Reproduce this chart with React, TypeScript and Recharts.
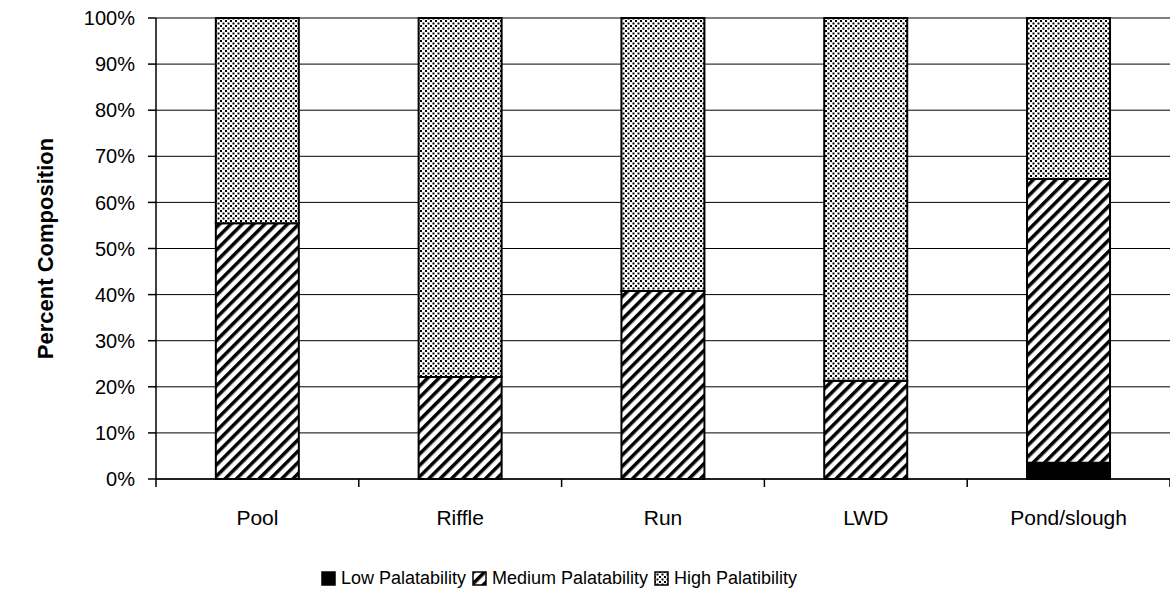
import { BarChart, Bar, XAxis, YAxis, CartesianGrid, Legend } from 'recharts'

const categories = ['Pool', 'Riffle', 'Run', 'LWD', 'Pond/slough']
const lowValues = [0, 0, 0, 0, 3.5]
const mediumValues = [55.5, 22.1, 40.8, 21.3, 61.6]
const highValues = [44.5, 77.9, 59.2, 78.7, 34.9]
const yTicks = [0, 10, 20, 30, 40, 50, 60, 70, 80, 90, 100]

const seriesNames = ['Low Palatability', 'Medium Palatability', 'High Palatibility']

const data = categories.map((name, i) => ({
  name,
  low: lowValues[i],
  medium: mediumValues[i],
  high: highValues[i]
}))

const FONT = 'Arial, "Liberation Sans", sans-serif'
const X_TICK_MARGIN = 31

// category labels plus the boundary tick marks between categories
const CategoryTick = (props: any) => {
  const { x, y, payload, index, width } = props
  const half = width / categories.length / 2
  const axisY = y - X_TICK_MARGIN
  return (
    <g>
      <line x1={x - half} x2={x - half} y1={axisY} y2={axisY + 8} stroke="#000" strokeWidth={1.5} />
      {index === categories.length - 1 && (
        <line x1={x + half} x2={x + half} y1={axisY} y2={axisY + 8} stroke="#000" strokeWidth={1.5} />
      )}
      <text x={x} y={y} dy="0.71em" textAnchor="middle" fontSize={21} fill="#000" fontFamily={FONT}>
        {payload.value}
      </text>
    </g>
  )
}

const YLabel = (props: any) => {
  const { viewBox } = props
  const cy = viewBox.y + viewBox.height / 2
  return (
    <text
      x={45}
      y={cy}
      transform={`rotate(-90, 45, ${cy})`}
      textAnchor="middle"
      dominantBaseline="central"
      fontSize={22}
      fontWeight="bold"
      fontFamily={FONT}
      fill="#000"
    >
      Percent Composition
    </text>
  )
}

const LegendIcon = ({ fill }: { fill: string }) => (
  <svg width={15} height={15} style={{ marginRight: 5 }}>
    <rect x={1} y={1} width={13} height={13} fill={fill} stroke="#000" strokeWidth={1.5} />
  </svg>
)

const CustomLegend = () => {
  const fills = ['#000', 'url(#hatch)', 'url(#dots)']
  return (
    <div
      style={{
        display: 'flex',
        justifyContent: 'center',
        alignItems: 'center',
        height: 32,
        fontFamily: FONT,
        fontSize: 18,
        color: '#000'
      }}
    >
      {seriesNames.map((n, i) => (
        <span key={n} style={{ display: 'flex', alignItems: 'center', marginRight: 6 }}>
          <LegendIcon fill={fills[i]} />
          {n}
        </span>
      ))}
    </div>
  )
}

export default function App() {
  return (
    <div style={{ position: 'absolute', left: 0, top: 0, background: '#fff' }}>
      <BarChart
        width={1170}
        height={595}
        data={data}
        margin={{ top: 18, right: 0, left: 0, bottom: 1 }}
        barCategoryGap="29.5%"
      >
        <defs>
          <pattern id="hatch" width={8} height={8} patternUnits="userSpaceOnUse" patternTransform="rotate(45)">
            <rect width={8} height={8} fill="#fff" />
            <rect x={0} y={0} width={3.5} height={8} fill="#000" />
          </pattern>
          <pattern id="dots" width={5} height={5} patternUnits="userSpaceOnUse">
            <rect width={5} height={5} fill="#fff" />
            <rect x={0} y={0} width={2} height={2} fill="#000" />
            <rect x={2.5} y={2.5} width={2} height={2} fill="#000" />
          </pattern>
        </defs>
        <CartesianGrid vertical={false} stroke="#000" strokeWidth={1} />
        <XAxis
          dataKey="name"
          interval={0}
          height={83}
          tickLine={false}
          tickSize={0}
          tickMargin={X_TICK_MARGIN}
          axisLine={{ stroke: '#000', strokeWidth: 1.5 }}
          tick={<CategoryTick />}
        />
        <YAxis
          width={156}
          domain={[0, 100]}
          ticks={yTicks}
          interval={0}
          tickFormatter={(v: number) => `${v}%`}
          tickSize={8}
          tickMargin={13}
          tick={{ fill: '#000', fontSize: 20, fontFamily: FONT }}
          tickLine={{ stroke: '#000', strokeWidth: 1.5 }}
          axisLine={{ stroke: '#000', strokeWidth: 1.5 }}
          label={<YLabel />}
        />
        <Legend verticalAlign="bottom" height={32} content={<CustomLegend />} wrapperStyle={{ left: 0, width: 1124 }} />
        <Bar dataKey="low" name={seriesNames[0]} stackId="a" fill="#000" stroke="#000" strokeWidth={2} isAnimationActive={false} />
        <Bar dataKey="medium" name={seriesNames[1]} stackId="a" fill="url(#hatch)" stroke="#000" strokeWidth={2} isAnimationActive={false} />
        <Bar dataKey="high" name={seriesNames[2]} stackId="a" fill="url(#dots)" stroke="#000" strokeWidth={2} isAnimationActive={false} />
      </BarChart>
    </div>
  )
}
